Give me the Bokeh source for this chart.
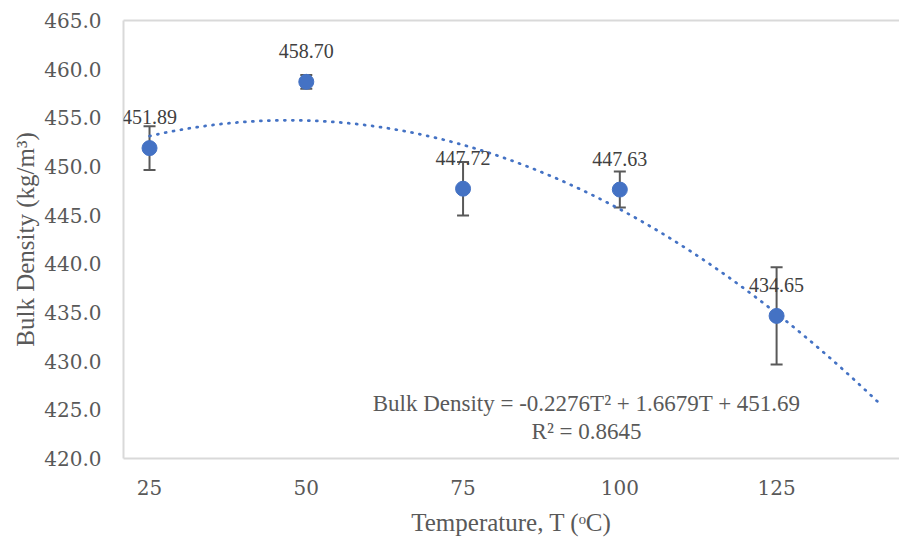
import numpy as np
from bokeh.plotting import figure
from bokeh.models import (ColumnDataSource, Whisker, TeeHead, LinearAxis, FixedTicker,
                          Label, LabelSet, Range1d, NumeralTickFormatter)
from bokeh.embed import file_html
from bokeh.resources import INLINE

# ---- data ----
temps = [25, 50, 75, 100, 125]
density = [451.89, 458.70, 447.72, 447.63, 434.65]
error = [2.25, 0.70, 2.75, 1.85, 5.00]
point_labels = ["451.89", "458.70", "447.72", "447.63", "434.65"]
x_ticks = [25, 50, 75, 100, 125]
y_ticks = [420, 425, 430, 435, 440, 445, 450, 455, 460, 465]
trend_end = 141.3
equation = "Bulk Density = -0.2276T\u00b2 + 1.6679T + 451.69"
r_squared = "R\u00b2 = 0.8645"

FONT = "Liberation Serif"
NUM_FONT = "DejaVu Serif"
BLUE = "#4472C4"
GREY_TXT = "#595959"
AXIS_GREY = "#D9D9D9"

src = ColumnDataSource(dict(
    x=temps, y=density,
    upper=[d + e for d, e in zip(density, error)],
    lower=[d - e for d, e in zip(density, error)],
    lab=point_labels,
))

p = figure(width=899, height=540, output_backend="svg", toolbar_location=None,
           x_range=Range1d(20.85, 144.6), y_range=Range1d(420, 465),
           min_border_left=123, min_border_right=0, min_border_top=20, min_border_bottom=82)
p.outline_line_color = None
p.xgrid.visible = False
p.ygrid.visible = False
p.background_fill_color = "white"
p.border_fill_color = "white"

# trendline (2nd order polynomial fit of the data)
coef = np.polyfit(temps, density, 2)
tx = np.linspace(temps[0], trend_end, 300)
ty = np.polyval(coef, tx)
p.line(tx, ty, line_color=BLUE, line_width=2.75, line_dash="1 7", line_cap="round")

# error bars
w = Whisker(base="x", upper="upper", lower="lower", source=src, dimension="height",
            line_color=GREY_TXT, line_width=2,
            upper_head=TeeHead(size=12, line_color=GREY_TXT, line_width=2),
            lower_head=TeeHead(size=12, line_color=GREY_TXT, line_width=2))
p.add_layout(w)

# markers
p.scatter("x", "y", source=src, size=15, fill_color=BLUE, line_color=BLUE)

# data labels
p.add_layout(LabelSet(x="x", y="y", text="lab", source=src, text_font=NUM_FONT,
                      text_font_size="20px",
                      text_color="#404040", text_align="center", text_baseline="middle",
                      y_offset=31))

# equation
p.add_layout(Label(x=94.7, y=425.65, text=equation, text_font=FONT, text_font_size="23px",
                   text_color=GREY_TXT, text_align="center", text_baseline="middle"))
p.add_layout(Label(x=94.7, y=422.8, text=r_squared, text_font=FONT, text_font_size="23px",
                   text_color=GREY_TXT, text_align="center", text_baseline="middle"))

# axes
for ax in (p.xaxis[0], p.yaxis[0]):
    ax.axis_line_color = AXIS_GREY
    ax.axis_line_width = 2
    ax.major_tick_line_color = None
    ax.minor_tick_line_color = None
    ax.major_tick_out = 0
    ax.major_tick_in = 0
    ax.major_label_text_font = NUM_FONT
    ax.major_label_text_font_size = "20px"
    ax.major_label_text_color = GREY_TXT
    ax.axis_label_text_font = FONT
    ax.axis_label_text_font_size = "25px"
    ax.axis_label_text_font_style = "normal"
    ax.axis_label_text_color = GREY_TXT

p.xaxis.ticker = FixedTicker(ticks=x_ticks)
p.yaxis.ticker = FixedTicker(ticks=y_ticks)
p.yaxis.formatter = NumeralTickFormatter(format="0.0")
p.xaxis.axis_label = "Temperature, T (\u1d52C)"
p.yaxis.axis_label = "Bulk Density (kg/m\u00b3)"
p.xaxis.major_label_standoff = 21
p.xaxis.axis_label_standoff = 11
p.yaxis.major_label_standoff = 22
p.yaxis.axis_label_standoff = 2

top = LinearAxis(ticker=FixedTicker(ticks=[]), axis_line_color=AXIS_GREY, axis_line_width=2,
                 major_tick_line_color=None, minor_tick_line_color=None,
                 major_tick_out=0, major_tick_in=0, major_label_standoff=0,
                 major_label_text_font_size="0px")
p.add_layout(top, "above")

open("out.html", "w").write(file_html(p, INLINE))
